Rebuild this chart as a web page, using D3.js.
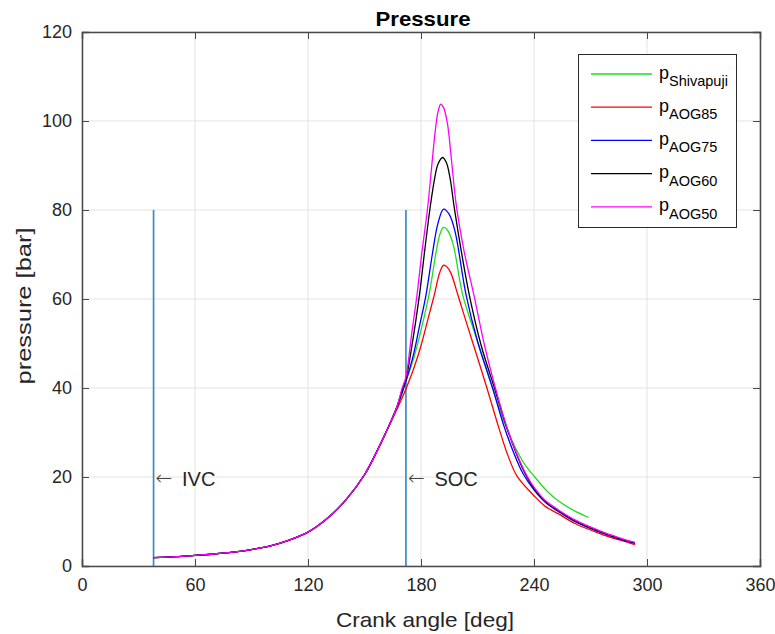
<!DOCTYPE html>
<html>
<head>
<meta charset="utf-8">
<script src="https://cdn.jsdelivr.net/npm/d3@7"></script>
<style>
  html, body { margin: 0; padding: 0; background: #fff; }
  svg { display: block; font-family: "Liberation Sans", Arial, Helvetica, sans-serif; }
</style>
</head>
<body>
<svg id="chart" width="775" height="634"></svg>
<script>
// ---------- data ----------
const xTickValues = [0, 60, 120, 180, 240, 300, 360];
const yTickValues = [0, 20, 40, 60, 80, 100, 120];

// shared compression stroke (deg, bar)
const compAngle = [38, 50, 60, 70, 80, 90, 100, 110, 120, 130, 140, 150, 158, 163];
const compP     = [1.9, 2.1, 2.4, 2.7, 3.1, 3.7, 4.5, 5.8, 7.6, 10.6, 14.8, 20.5, 27, 31.5];

// per-series combustion / expansion part
const shivAngle = [167, 170, 172, 176, 180, 184.5, 188, 190, 192, 194, 197, 202.1, 210, 218, 224, 230, 235, 240, 247, 253, 261, 269];
const shivP     = [35.5, 38.8, 41.5, 46.5, 53, 61.5, 70.5, 74.5, 76.1, 75.5, 72.4, 61, 50.5, 40, 32.5, 26.7, 22.9, 20.2, 16.8, 14.6, 12.5, 10.9];

const aog85Angle = [167, 170, 172, 176, 180, 184, 187.1, 190, 192, 194, 196, 199.5, 205, 210, 215, 221, 226, 231, 240, 246, 253, 262, 275, 285, 293.6];
const aog85P     = [35, 37.8, 39.8, 44.2, 49.5, 56, 61, 66, 67.6, 67.1, 65.7, 61, 53.5, 46.8, 40, 31.5, 25, 20.2, 15.8, 13.4, 11.7, 9.5, 7.3, 5.9, 4.8];

const aog75Angle = [167, 170, 172, 176, 179, 182.7, 186, 189, 192, 195, 198, 203.9, 210, 218, 224, 229, 234, 240, 246, 253, 262, 275, 285, 293.6];
const aog75P     = [35.5, 39, 41.5, 47.5, 53.5, 61, 70, 77, 80.2, 79, 75.3, 61, 50.5, 40, 31.5, 25.7, 20.9, 17.1, 14.3, 12.2, 9.9, 7.6, 6.1, 5.1];

const aog60Angle = [167, 170, 172, 175, 179.2, 182, 184.8, 187, 189, 191.5, 193.5, 195.5, 197.7, 201.5, 205.6, 212, 219, 225, 230, 235, 240, 246, 253, 262, 275, 285, 293.6];
const aog60P     = [35.5, 39.5, 42, 49, 61, 71, 80.4, 86.5, 90.3, 91.8, 90.6, 87, 80.4, 70.5, 61, 49.5, 40, 31.8, 25.9, 21, 17.4, 14.5, 12.4, 10.1, 7.7, 6.2, 5.2];

const aog50Angle = [167, 170, 172, 175, 177.9, 180.5, 183.5, 185.5, 187.5, 189, 190.5, 192, 194, 196, 198.6, 203, 208.3, 213.5, 219.5, 225, 230, 235, 240, 246, 253, 262, 275, 285, 293.6];
const aog50P     = [35.5, 40, 42.5, 52, 61, 70.5, 80.4, 89, 97.5, 102, 103.8, 103, 99.5, 92, 81.5, 70.5, 60.5, 50, 40, 32, 26.1, 21.3, 17.7, 14.7, 12.6, 10.3, 7.9, 6.4, 5.3];

const seriesNames  = ["Shivapuji", "AOG85", "AOG75", "AOG60", "AOG50"];
const seriesColors = ["#22dd22", "#ff0000", "#0000ff", "#000000", "#ff00ff"];
const seriesAngles = [shivAngle, aog85Angle, aog75Angle, aog60Angle, aog50Angle];
const seriesPress  = [shivP, aog85P, aog75P, aog60P, aog50P];

const markerAngles = [38, 172];
const markerTop = 80;
const markerLabels = ["IVC", "SOC"];
const markerLabelP = 20;

// ---------- layout ----------
const W = 775, H = 634;
const margin = { left: 82, right: 15, top: 32, bottom: 68 };
const svg = d3.select("#chart");
const x = d3.scaleLinear().domain([0, 360]).range([margin.left, W - margin.right]);
const y = d3.scaleLinear().domain([0, 120]).range([H - margin.bottom, margin.top]);

// grid
const grid = svg.append("g");
grid.selectAll("line.gx").data(xTickValues).join("line")
  .attr("x1", d => x(d)).attr("x2", d => x(d))
  .attr("y1", y(0)).attr("y2", y(120))
  .attr("stroke", "#e3e3e3").attr("stroke-width", 1);
grid.selectAll("line.gy").data(yTickValues).join("line")
  .attr("y1", d => y(d)).attr("y2", d => y(d))
  .attr("x1", x(0)).attr("x2", x(360))
  .attr("stroke", "#e3e3e3").attr("stroke-width", 1);

// marker lines (IVC, SOC)
svg.selectAll("line.marker").data(markerAngles).join("line")
  .attr("x1", d => x(d)).attr("x2", d => x(d))
  .attr("y1", y(0)).attr("y2", y(markerTop))
  .attr("stroke", "#3a8cc6").attr("stroke-width", 1.7);

// curves
const line = d3.line().x(d => x(d[0])).y(d => y(d[1])).curve(d3.curveCatmullRom.alpha(0.5));
seriesNames.forEach((name, i) => {
  const pts = compAngle.map((a, k) => [a, compP[k]])
    .concat(seriesAngles[i].map((a, k) => [a, seriesPress[i][k]]));
  svg.append("path").datum(pts)
    .attr("d", line)
    .attr("fill", "none")
    .attr("stroke", seriesColors[i])
    .attr("stroke-width", 1.3);
});

// axes
const axisColor = "#4a4a4a";
const gx = svg.append("g").attr("transform", `translate(0,${y(0)})`)
  .call(d3.axisBottom(x).tickValues(xTickValues).tickSize(-7).tickPadding(12));
const gy = svg.append("g").attr("transform", `translate(${x(0)},0)`)
  .call(d3.axisLeft(y).tickValues(yTickValues).tickSize(-7).tickPadding(10));
const gt = svg.append("g").attr("transform", `translate(0,${y(120)})`)
  .call(d3.axisTop(x).tickValues(xTickValues).tickSize(-7).tickFormat(""));
const gr = svg.append("g").attr("transform", `translate(${x(360)},0)`)
  .call(d3.axisRight(y).tickValues(yTickValues).tickSize(-7).tickFormat(""));
[gx, gy, gt, gr].forEach(g => {
  g.select(".domain").attr("stroke", axisColor).attr("stroke-width", 1.5);
  g.selectAll(".tick line").attr("stroke", axisColor).attr("stroke-width", 1);
  g.selectAll(".tick text").attr("fill", "#262626")
    .style("font-size", "18px").style("font-family", "'Liberation Sans', Arial, sans-serif");
});

// marker labels
markerAngles.forEach((a, i) => {
  svg.append("text").attr("x", x(a) + 2).attr("y", y(markerLabelP) + 8)
    .attr("fill", "#444").style("font-size", "20px")
    .style("font-family", "'DejaVu Sans', sans-serif").style("font-weight", "200")
    .text("\u2190");
  svg.append("text").attr("x", x(a) + 28.5).attr("y", y(markerLabelP) + 9)
    .attr("fill", "#262626").style("font-size", "20px")
    .text(markerLabels[i]);
});

// title and axis labels
svg.append("text").attr("x", (x(0) + x(360)) / 2 + 2).attr("y", 26)
  .attr("text-anchor", "middle").attr("fill", "#000")
  .style("font-size", "21px").style("font-weight", "bold")
  .attr("textLength", 95).attr("lengthAdjust", "spacingAndGlyphs")
  .text("Pressure");
svg.append("text").attr("x", (x(0) + x(360)) / 2 + 4).attr("y", 627)
  .attr("text-anchor", "middle").attr("fill", "#262626")
  .style("font-size", "21px")
  .attr("textLength", 178).attr("lengthAdjust", "spacingAndGlyphs")
  .text("Crank angle [deg]");
svg.append("text").attr("transform", `translate(31,${(y(0) + y(120)) / 2 + 7}) rotate(-90)`)
  .attr("text-anchor", "middle").attr("fill", "#262626")
  .style("font-size", "21px")
  .attr("textLength", 157).attr("lengthAdjust", "spacingAndGlyphs")
  .text("pressure [bar]");

// legend
const leg = svg.append("g");
leg.append("rect").attr("x", 578.5).attr("y", 54.5).attr("width", 158).attr("height", 173)
  .attr("fill", "#fff").attr("stroke", "#2a2a2a").attr("stroke-width", 1);
seriesNames.forEach((name, i) => {
  const ly = 74 + i * 33.2;
  leg.append("line").attr("x1", 591).attr("x2", 652).attr("y1", ly).attr("y2", ly)
    .attr("stroke", seriesColors[i]).attr("stroke-width", 1.3);
  const t = leg.append("text").attr("x", 659).attr("y", ly + 4.5).attr("fill", "#000")
    .style("font-size", "18px");
  t.append("tspan").text("p");
  t.append("tspan").attr("dy", 7.5).style("font-size", "14.5px").text(name);
});
</script>
</body>
</html>
